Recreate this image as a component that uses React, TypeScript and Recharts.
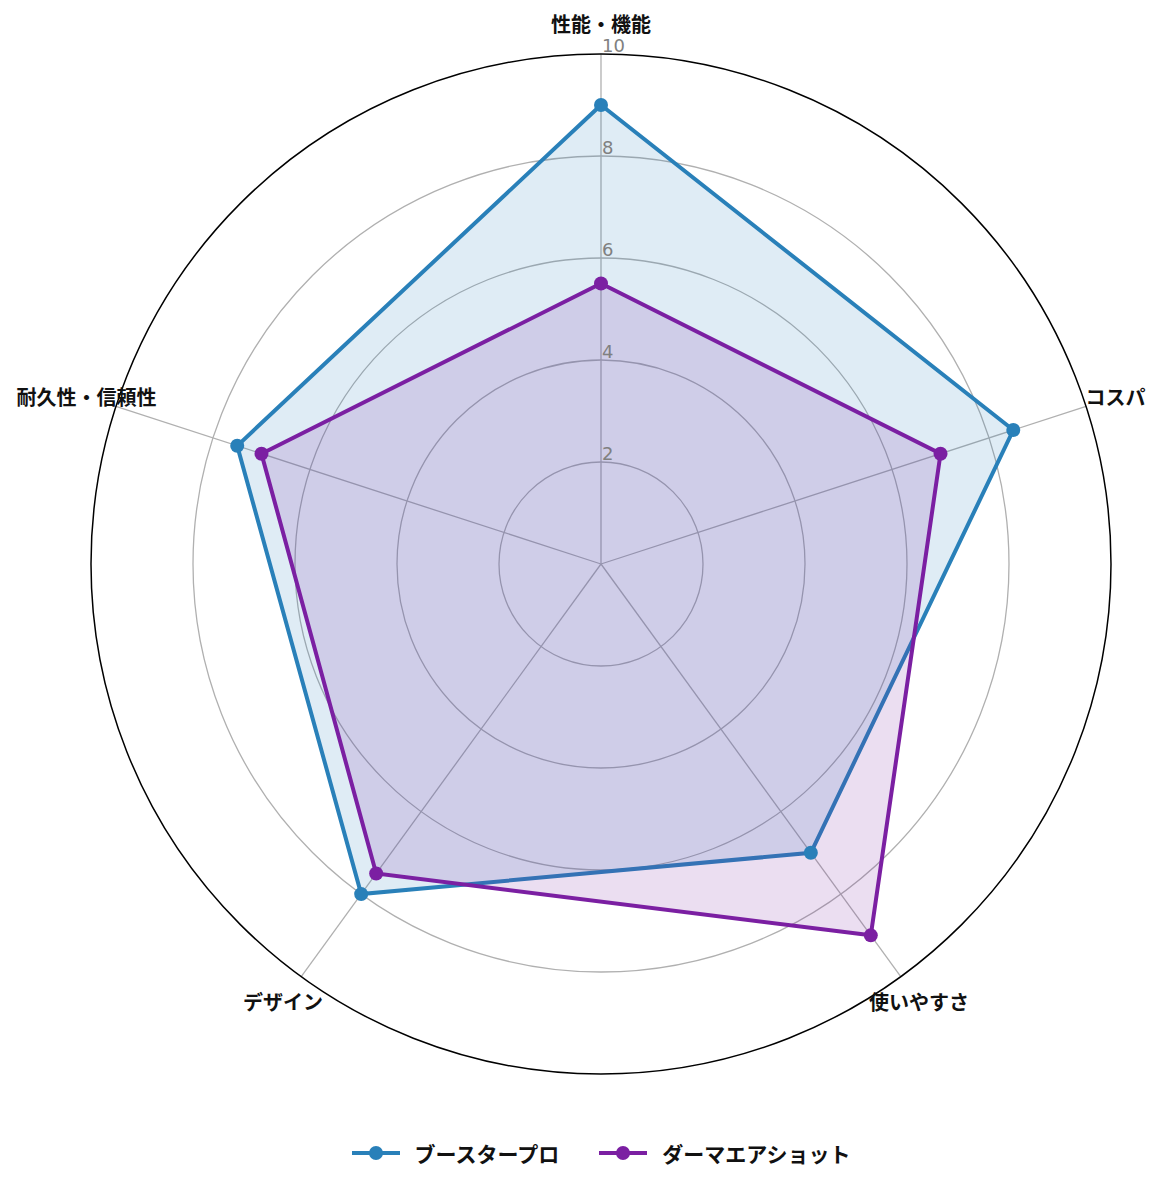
import React from "react"
import {
  RadarChart,
  Radar,
  PolarGrid,
  PolarAngleAxis,
  PolarRadiusAxis,
  Legend,
} from "recharts"

const categories = ["性能・機能", "コスパ", "使いやすさ", "デザイン", "耐久性・信頼性"]
const boostPro = [9, 8.5, 7, 8, 7.5]
const dermaAirShot = [5.5, 7, 9, 7.5, 7]
const radiusTicks = [2, 4, 6, 8, 10]

const seriesNames = ["ブースタープロ", "ダーマエアショット"]
const BLUE = "#2980b9"
const PURPLE = "#7b1fa2"

const data = categories.map((c, i) => ({
  axis: c,
  a: boostPro[i],
  b: dermaAirShot[i],
}))

const FONT = '"Noto Sans CJK JP", "Noto Sans", sans-serif'
const CX = 593
const CY = 556
const R = 510

function AngleTick(props: any) {
  const { payload } = props
  const angle = (payload.coordinate * Math.PI) / 180
  const r = 541
  const x = CX + r * Math.cos(angle)
  const y = CY - r * Math.sin(angle)
  return (
    <text
      x={x}
      y={y}
      textAnchor="middle"
      dominantBaseline="central"
      fontFamily={FONT}
      fontWeight={700}
      fontSize={20}
      fill="#111"
    >
      {payload.value}
    </text>
  )
}

function RadiusTick(props: any) {
  const { x, y, payload } = props
  return (
    <text
      x={x + 1}
      y={y - 2}
      textAnchor="start"
      fontFamily='"DejaVu Sans", sans-serif'
      fontSize={18}
      fill="#808080"
    >
      {payload.value}
    </text>
  )
}

function LegendContent() {
  const colors = [BLUE, PURPLE]
  return (
    <div
      style={{
        display: "flex",
        justifyContent: "center",
        alignItems: "center",
        gap: 40,
        height: 30,
        fontFamily: FONT,
        fontWeight: 700,
        fontSize: 21,
        color: "#111",
      }}
    >
      {seriesNames.map((n, i) => (
        <div key={n} style={{ display: "flex", alignItems: "center", gap: 15 }}>
          <svg width={48} height={16}>
            <line x1={0} y1={8} x2={48} y2={8} stroke={colors[i]} strokeWidth={4} />
            <circle cx={24} cy={8} r={7} fill={colors[i]} />
          </svg>
          <span>{n}</span>
        </div>
      ))}
    </div>
  )
}

export default function App() {
  return (
    <div style={{ width: 1144, height: 1172, background: "#fff" }}>
      <RadarChart
        width={1144}
        height={1172}
        data={data}
        cx={CX}
        cy={CY}
        outerRadius={R}
        margin={{ top: 0, right: 0, bottom: 0, left: 0 }}
      >
        <PolarGrid
          gridType="circle"
          polarRadius={[102, 204, 306, 408]}
          stroke="#b0b0b0"
          strokeWidth={1.3}
        />
        <PolarGrid
          gridType="circle"
          polarRadius={[R]}
          radialLines={false}
          stroke="#000"
          strokeWidth={1.5}
        />
        <PolarAngleAxis dataKey="axis" tick={<AngleTick />} axisLine={false} tickLine={false} />
        <PolarRadiusAxis
          angle={90}
          domain={[0, 10]}
          ticks={radiusTicks as any}
          tickCount={6}
          axisLine={false}
          tickLine={false}
          tick={<RadiusTick />}
        />
        <Radar
          name={seriesNames[0]}
          dataKey="a"
          stroke={BLUE}
          strokeWidth={4}
          fill={BLUE}
          fillOpacity={0.15}
          dot={{ r: 7, fill: BLUE, stroke: BLUE, strokeWidth: 0, fillOpacity: 1 }}
          isAnimationActive={false}
        />
        <Radar
          name={seriesNames[1]}
          dataKey="b"
          stroke={PURPLE}
          strokeWidth={4}
          fill={PURPLE}
          fillOpacity={0.15}
          dot={{ r: 7, fill: PURPLE, stroke: PURPLE, strokeWidth: 0, fillOpacity: 1 }}
          isAnimationActive={false}
        />
        <Legend
          content={<LegendContent />}
          wrapperStyle={{ top: 1130, left: 21, width: 1144, bottom: "auto" }}
        />
      </RadarChart>
    </div>
  )
}
